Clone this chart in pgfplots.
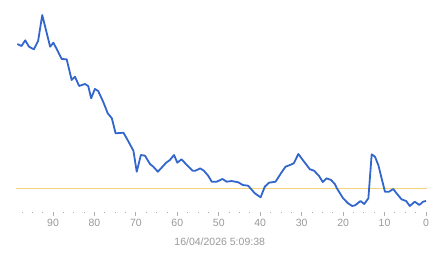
\documentclass[border=0pt]{standalone}
\usepackage{fontspec}
\setmainfont{Liberation Sans}
\usepackage{pgfplots}
\pgfplotsset{compat=1.18}
\definecolor{lineblue}{HTML}{3366CC}
\definecolor{refyellow}{HTML}{F1D57E}
\definecolor{labgray}{HTML}{999999}
\begin{document}
\begin{tikzpicture}
\path[use as bounding box] (0,0) rectangle (443pt,258pt);
\begin{axis}[
  at={(14.9pt,46pt)}, anchor=south west,
  scale only axis, width=412.1pt, height=207pt,
  x dir=reverse,
  xmin=-0.25, xmax=99.2, ymin=46, ymax=253,
  axis x line*=bottom, axis y line=none,
  axis line style={draw=none},
  xtick={0,10,...,90},
  minor xtick={0,2.5,...,97.5},
  tick align=outside,
  major tick length=4pt, minor tick length=1.3pt,
  every tick/.style={labgray!80, line width=0.8pt},
  xticklabel style={font=\fontsize{10.5}{12}\selectfont, text=labgray, yshift=0pt},
  /pgf/number format/assume math mode=true,
  clip=false,
]
\addplot[refyellow, line width=0.9pt] coordinates {(98.9,69.5) (-0.2,69.5)};
\addplot[lineblue, line width=1.8pt, line join=round] coordinates {
(98.6,214) (97.6,212) (96.7,217.7) (95.8,211.3) (94.6,208.7) (93.6,217) (92.6,243) (91.7,228)
(90.7,211.3) (89.9,215.3) (89.0,208) (87.9,199) (86.7,198.7) (85.5,178) (84.7,181.3) (83.7,172)
(82.3,174) (81.5,172) (80.8,159.7) (79.9,169) (79.1,167) (77.9,156.3) (76.8,144.7) (75.8,139.7)
(74.9,124.7) (73.0,125.3) (72.0,118) (70.6,107.3) (69.8,86.3) (68.8,103) (67.8,102.3) (66.6,94)
(65.8,91.3) (64.7,86.3) (63.2,93) (62.7,95.3) (61.8,98) (60.8,103) (60.0,95.3) (59.0,98.7)
(57.7,93) (56.3,87.3) (55.6,87.3) (54.5,89.7) (53.6,87.3) (52.5,82) (51.7,76.3) (50.5,76.3)
(49.1,79) (48.1,76.3) (46.9,77) (45.3,75.7) (44.2,73) (42.9,72.3) (41.3,64.7) (39.9,60.7)
(38.9,71.3) (37.9,75.3) (36.3,76.3) (35.0,84.7) (33.9,91.3) (32.8,93) (31.9,94.7) (30.8,104)
(29.6,97.3) (28.0,88.7) (27.0,87.3) (25.8,82) (24.9,76) (24.0,79.7) (22.9,78) (22.0,74)
(21.5,69.7) (20.0,59.7) (18.8,54.7) (17.8,52) (17.1,52.7) (15.8,57) (14.9,54) (13.9,59.7)
(13.1,103.7) (12.3,101.3) (11.5,93) (9.9,66.3) (8.9,66.3) (7.9,69) (7.1,64.7) (5.9,58.7)
(4.8,57) (3.9,52) (2.7,56.3) (1.6,53) (0.7,56.3) (0,57)
};
\end{axis}
\node[text=labgray, font=\fontsize{10.5}{12}\selectfont] at (219.7pt,16.3pt) {16/04/2026 5:09:38};
\end{tikzpicture}
\end{document}
